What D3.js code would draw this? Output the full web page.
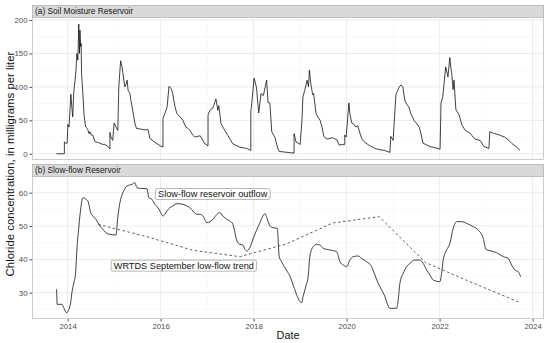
<!DOCTYPE html>
<html>
<head>
<meta charset="utf-8">
<script src="https://cdn.jsdelivr.net/npm/d3@7"></script>
<style>
  body { margin: 0; background: #fff; }
  text { font-family: "Liberation Sans", Arial, sans-serif; }
</style>
</head>
<body>
<svg id="chart" width="550" height="343"></svg>
<script>
// (a) soil moisture reservoir, chloride in mg/L, by decimal year
const soilYear = [2013.76, 2013.93, 2013.93, 2013.97, 2013.99, 2014.006, 2014.03, 2014.07, 2014.09, 2014.11, 2014.13, 2014.16, 2014.18, 2014.20, 2014.22, 2014.24, 2014.255, 2014.265, 2014.28, 2014.29, 2014.30, 2014.34, 2014.35, 2014.38, 2014.39, 2014.42, 2014.44, 2014.46, 2014.48, 2014.51, 2014.54, 2014.59, 2014.64, 2014.69, 2014.75, 2014.80, 2014.87, 2014.91,
  2014.91, 2014.93, 2014.97, 2015.00, 2015.04, 2015.08, 2015.10, 2015.12, 2015.14, 2015.17, 2015.19, 2015.23, 2015.26, 2015.28, 2015.30, 2015.34, 2015.36, 2015.45, 2015.48, 2015.56, 2015.64, 2015.73, 2015.77, 2015.88, 2015.99, 2016.05,
  2016.05, 2016.09, 2016.14, 2016.18, 2016.22, 2016.24, 2016.26, 2016.31, 2016.35, 2016.42, 2016.48, 2016.54, 2016.59, 2016.63, 2016.69, 2016.74, 2016.85, 2016.95, 2017.02,
  2017.02, 2017.06, 2017.12, 2017.19, 2017.23, 2017.25, 2017.30, 2017.34, 2017.38, 2017.45, 2017.55, 2017.70, 2017.85, 2017.94,
  2017.94, 2017.96, 2018.01, 2018.06, 2018.11, 2018.16, 2018.21, 2018.28, 2018.31, 2018.35, 2018.39, 2018.46, 2018.52, 2018.55, 2018.87,
  2018.87, 2018.91, 2019.00, 2019.04, 2019.06, 2019.10, 2019.15, 2019.18, 2019.20, 2019.23, 2019.27, 2019.29, 2019.34, 2019.38, 2019.43, 2019.47, 2019.51, 2019.58, 2019.69, 2019.79, 2019.84, 2019.92, 2019.96,
  2019.96, 2019.99, 2020.05, 2020.07, 2020.11, 2020.16, 2020.20, 2020.24, 2020.29, 2020.33, 2020.39, 2020.50, 2020.61, 2020.72, 2020.82, 2020.93,
  2020.95, 2021.00, 2021.06, 2021.10, 2021.13, 2021.17, 2021.21, 2021.25, 2021.30, 2021.34, 2021.38, 2021.45, 2021.51, 2021.56, 2021.60, 2021.64, 2021.79, 2022.01,
  2022.03, 2022.07, 2022.11, 2022.13, 2022.18, 2022.22, 2022.24, 2022.26, 2022.29, 2022.31, 2022.35, 2022.42, 2022.48, 2022.55, 2022.65, 2022.76, 2022.87, 2022.95, 2023.06,
  2023.08, 2023.14, 2023.19, 2023.24, 2023.29, 2023.35, 2023.40, 2023.49, 2023.56, 2023.64, 2023.73];
const soilValue = [0, 0, 18, 15, 16, 44, 40, 89, 70, 55, 90, 110, 125, 150, 140, 194, 150, 185, 160, 165, 120, 76, 60, 44, 40, 38, 35, 30, 33, 28, 28, 18, 17, 16, 14, 14, 11, 7,
  32, 25, 20, 46, 40, 35, 98, 120, 139, 130, 120, 100, 105, 110, 95, 90, 80, 45, 38, 37, 36, 36, 23, 17, 12, 10,
  53, 60, 70, 101, 98, 95, 90, 70, 60, 55, 50, 40, 38, 35, 28, 25, 27, 15, 12,
  58, 65, 68, 82, 65, 72, 45, 40, 35, 27, 15, 10, 8, 5,
  63, 75, 113, 100, 61, 90, 87, 110, 77, 76, 33, 24, 8, 3.5, 1,
  30, 18, 14, 50, 85, 95, 110, 100, 125, 105, 88, 90, 61, 55, 50, 40, 26, 22, 24, 21, 13, 14, 14,
  28, 25, 76, 60, 46, 44, 40, 42, 30, 22, 17, 12, 8, 6, 5, 2,
  26, 20, 88, 95, 100, 103, 100, 80, 73, 70, 60, 50, 45, 40, 30, 16, 11, 7,
  76, 86, 115, 130, 115, 144, 130, 120, 96, 110, 66, 58, 43, 35, 31, 22, 20, 11, 8,
  33, 31, 30, 29, 28, 26, 25, 20, 15, 11, 5];

// (b) slow-flow reservoir outflow
const slowYear = [2013.763, 2013.776, 2013.877, 2013.899, 2013.979, 2014.028, 2014.065, 2014.092, 2014.135, 2014.172, 2014.2, 2014.243, 2014.28, 2014.329, 2014.394, 2014.437, 2014.465, 2014.495, 2014.544, 2014.609, 2014.652, 2014.695, 2014.759, 2014.824, 2014.91, 2015.039,
  2015.082, 2015.125, 2015.189, 2015.275, 2015.383, 2015.447, 2015.49, 2015.555, 2015.705, 2015.748, 2015.813, 2015.877, 2015.942, 2015.985, 2016.049, 2016.092, 2016.135, 2016.2, 2016.265, 2016.351, 2016.48, 2016.566, 2016.63, 2016.695, 2016.781, 2016.845, 2016.91, 2016.996,
  2017.06, 2017.125, 2017.211, 2017.275, 2017.34, 2017.426, 2017.49, 2017.555, 2017.598, 2017.641, 2017.705, 2017.77, 2017.813, 2017.856, 2017.92, 2017.985, 2018.071, 2018.135, 2018.2, 2018.243, 2018.308, 2018.351, 2018.415, 2018.508,
  2018.551, 2018.602, 2018.673, 2018.716, 2018.781, 2018.845, 2018.909, 2018.968, 2019.032, 2019.067, 2019.125, 2019.174, 2019.211, 2019.282, 2019.355, 2019.426, 2019.497, 2019.57, 2019.641, 2019.785, 2019.856, 2019.927, 2020.0,
  2020.071, 2020.142, 2020.25, 2020.323, 2020.43, 2020.538, 2020.609, 2020.68, 2020.753, 2020.824, 2020.873, 2020.931, 2021.075, 2021.11, 2021.146, 2021.217, 2021.29, 2021.361, 2021.469, 2021.576, 2021.647, 2021.72, 2021.791, 2021.862, 2022.006,
  2022.043, 2022.077, 2022.151, 2022.222, 2022.292, 2022.366, 2022.473, 2022.581, 2022.723, 2022.83, 2022.938, 2022.996, 2023.082, 2023.226, 2023.368, 2023.475, 2023.548, 2023.619, 2023.69, 2023.742];
const slowValue = [31, 26.5, 26.5, 26, 24, 25, 27, 30, 33, 36, 43, 50, 55, 58.5, 58, 57.5, 56, 54, 53, 52, 51, 50, 49, 48, 47.5, 47.3,
  53, 57, 60, 62, 62.5, 63, 61.5, 61.3, 61.2, 58.5, 58, 56.5, 55.5, 54.5, 53, 53.5, 54.5, 55.5, 56, 56.7, 56.5, 56, 55.5, 54.5, 53.5, 53.5, 53, 51,
  51.3, 52, 53.5, 54, 53, 52, 51.5, 50.5, 48, 45.5, 44.5, 44.3, 43, 42.5, 43.5, 46, 49, 51, 53, 53.7, 51.5, 50, 49.5, 49.3,
  40.8, 39.3, 37.5, 36.5, 35, 32.5, 30, 28, 27, 29, 32, 35, 41, 43.8, 44.5, 44.3, 43.3, 43, 42.8, 42.3, 39.3, 38.3, 37.8,
  39.8, 40.8, 41, 40.3, 39.3, 37.8, 35.3, 32.8, 30.8, 28.8, 26.8, 25.3, 25.3, 27.8, 32.8, 35.8, 37.8, 38.8, 39.8, 39.8, 38.8, 36.8, 35.3, 33.8, 33.3,
  35.8, 39.8, 42.8, 44.8, 49.3, 51.3, 51.3, 50.8, 49.8, 48.8, 46.3, 43, 42.6, 42, 40.8, 40.3, 38.3, 36.8, 36.3, 34.8];

// WRTDS September low-flow trend
const trendYear  = [2014.66, 2015.7, 2016.7, 2017.7, 2018.7, 2019.7, 2020.7, 2021.7, 2022.7, 2023.7];
const trendValue = [50.5, 46.8, 42.7, 40.8, 44.6, 50.9, 52.8, 39.0, 33.0, 27.2];

// annotation labels in panel (b)
const labelText  = ["Slow-flow reservoir outflow", "WRTDS September low-flow trend"];
const labelYear  = [2017.12, 2016.5];
const labelValue = [59.6, 38.1];

const xTicks = [2014, 2016, 2018, 2020, 2022, 2024];
const xMinor = [2015, 2017, 2019, 2021, 2023];
const topTicks = [0, 50, 100, 150, 200];
const topMinor = [25, 75, 125, 175];
const botTicks = [30, 40, 50, 60];
const botMinor = [25, 35, 45, 55, 65];

const LEFT = 32, RIGHT = 544;
const svg = d3.select("#chart");

const x = d3.scaleLinear().domain([2013.234, 2024.245]).range([LEFT, RIGHT]);

const panels = [
  { strip: "(a) Soil Moisture Reservoir", top: 17, bottom: 160, domain: [-9.3, 204.5],
    ticks: topTicks, minor: topMinor },
  { strip: "(b) Slow-flow Reservoir", top: 176, bottom: 319, domain: [22.1, 65],
    ticks: botTicks, minor: botMinor }
];

panels.forEach(p => {
  p.y = d3.scaleLinear().domain(p.domain).range([p.bottom, p.top]);
  const g = svg.append("g");

  // strip
  g.append("rect")
    .attr("x", LEFT + 0.5).attr("y", p.top - 12 + 0.5)
    .attr("width", RIGHT - LEFT - 1).attr("height", 12)
    .attr("fill", "#d9d9d9").attr("stroke", "#b0b0b0").attr("stroke-width", 0.8);
  g.append("text")
    .attr("x", LEFT + 3).attr("y", p.top - 3)
    .attr("font-size", "8.3px").attr("fill", "#1a1a1a")
    .text(p.strip);

  // grid
  g.selectAll(".gminy").data(p.minor.filter(v => v > p.domain[0] && v < p.domain[1])).enter().append("line")
    .attr("x1", LEFT).attr("x2", RIGHT)
    .attr("y1", d => p.y(d)).attr("y2", d => p.y(d))
    .attr("stroke", "#f2f2f2").attr("stroke-width", 0.5);
  g.selectAll(".gminx").data(xMinor).enter().append("line")
    .attr("y1", p.top).attr("y2", p.bottom)
    .attr("x1", d => x(d)).attr("x2", d => x(d))
    .attr("stroke", "#f2f2f2").attr("stroke-width", 0.5);
  g.selectAll(".gmajy").data(p.ticks).enter().append("line")
    .attr("x1", LEFT).attr("x2", RIGHT)
    .attr("y1", d => p.y(d)).attr("y2", d => p.y(d))
    .attr("stroke", "#ebebeb").attr("stroke-width", 1);
  g.selectAll(".gmajx").data(xTicks).enter().append("line")
    .attr("y1", p.top).attr("y2", p.bottom)
    .attr("x1", d => x(d)).attr("x2", d => x(d))
    .attr("stroke", "#ebebeb").attr("stroke-width", 1);

  // y axis
  const yAxis = d3.axisLeft(p.y).tickValues(p.ticks).tickSize(2.5).tickPadding(2);
  const ya = g.append("g").attr("transform", `translate(${LEFT},0)`).call(yAxis);
  ya.select(".domain").remove();
  ya.selectAll("line").attr("stroke", "#4d4d4d");
  ya.selectAll("text").attr("font-size", "7.8px").attr("fill", "#4d4d4d")
    .attr("font-family", "Liberation Sans, Arial, sans-serif");
});

const pa = panels[0], pb = panels[1];

// x axis on bottom panel
const xa = svg.append("g").attr("transform", `translate(0,${pb.bottom})`)
  .call(d3.axisBottom(x).tickValues(xTicks).tickFormat(d3.format("d")).tickSize(2.5).tickPadding(2));
xa.select(".domain").remove();
xa.selectAll("line").attr("stroke", "#4d4d4d");
xa.selectAll("text").attr("font-size", "7.8px").attr("fill", "#4d4d4d")
  .attr("font-family", "Liberation Sans, Arial, sans-serif");

// series
const soilLine = d3.line().x(d => x(d[0])).y(d => pa.y(d[1]));
svg.append("path")
  .datum(d3.zip(soilYear, soilValue))
  .attr("d", soilLine)
  .attr("fill", "none").attr("stroke", "#111").attr("stroke-width", 0.8);

const slowLine = d3.line().x(d => x(d[0])).y(d => pb.y(d[1])).curve(d3.curveMonotoneX);
svg.append("path")
  .datum(d3.zip(slowYear, slowValue))
  .attr("d", slowLine)
  .attr("fill", "none").attr("stroke", "#111").attr("stroke-width", 0.8);

svg.append("path")
  .datum(d3.zip(trendYear, trendValue))
  .attr("d", d3.line().x(d => x(d[0])).y(d => pb.y(d[1])))
  .attr("fill", "none").attr("stroke", "#333").attr("stroke-width", 0.8)
  .attr("stroke-dasharray", "2.5,2.5");

// labels
labelText.forEach((t, i) => {
  const g = svg.append("g");
  const txt = g.append("text")
    .attr("x", x(labelYear[i])).attr("y", pb.y(labelValue[i]))
    .attr("text-anchor", "middle").attr("dominant-baseline", "central")
    .attr("font-size", "9.2px").attr("fill", "#111")
    .text(t);
  const bb = txt.node().getBBox();
  g.insert("rect", "text")
    .attr("x", bb.x - 2.5).attr("y", bb.y - 0.5)
    .attr("width", bb.width + 5).attr("height", bb.height + 1)
    .attr("rx", 1.5)
    .attr("fill", "#fff").attr("stroke", "#888").attr("stroke-width", 0.6);
});

// panel borders
panels.forEach(p => {
  svg.append("rect")
    .attr("x", LEFT + 0.5).attr("y", p.top + 0.5)
    .attr("width", RIGHT - LEFT - 1).attr("height", p.bottom - p.top - 1)
    .attr("fill", "none").attr("stroke", "#c0c0c0").attr("stroke-width", 0.8);
});

// axis titles
svg.append("text")
  .attr("x", (LEFT + RIGHT) / 2).attr("y", 339)
  .attr("text-anchor", "middle").attr("font-size", "10.8px").attr("fill", "#111")
  .text("Date");
svg.append("text")
  .attr("transform", "translate(14,164) rotate(-90)")
  .attr("text-anchor", "middle").attr("font-size", "11.4px").attr("fill", "#111")
  .text("Chloride concentration, in milligrams per liter");
</script>
</body>
</html>
